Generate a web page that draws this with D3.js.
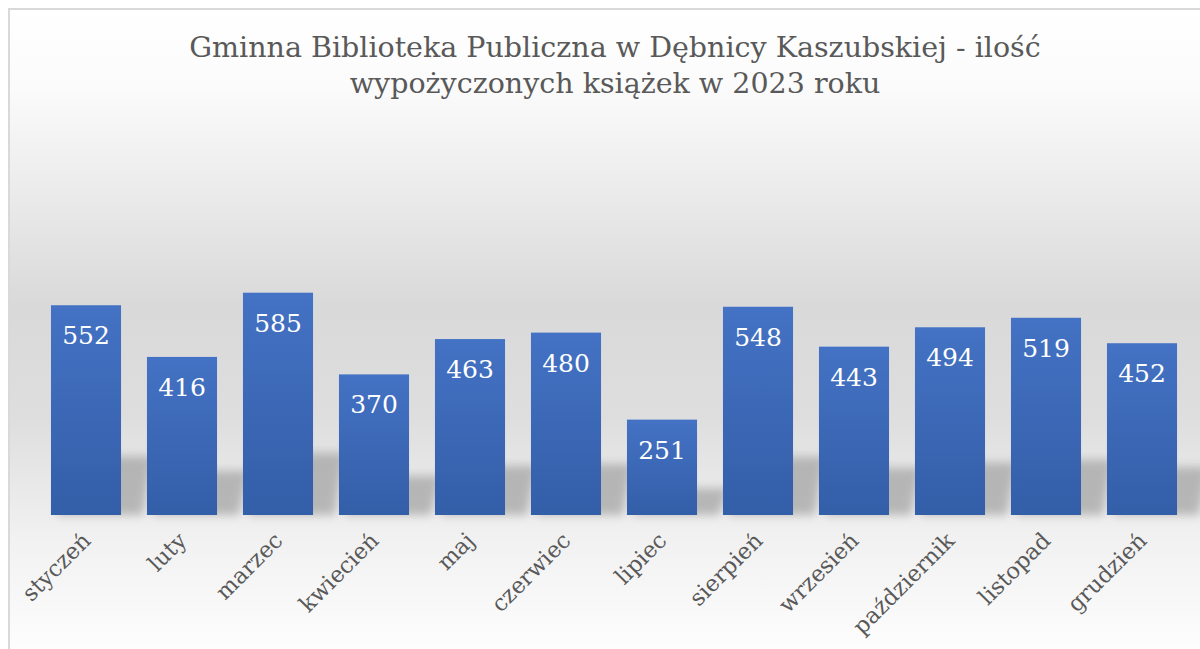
<!DOCTYPE html>
<html><head><meta charset="utf-8">
<script src="https://cdn.jsdelivr.net/npm/d3@7"></script>
<style>html,body{margin:0;padding:0;background:#fff;overflow:hidden}</style>
</head><body>
<svg id="c" width="1200" height="649"></svg>
<script>
const titleLines = ["Gminna Biblioteka Publiczna w Dębnicy Kaszubskiej - ilość", "wypożyczonych książek w 2023 roku"];
const months = ["styczeń","luty","marzec","kwiecień","maj","czerwiec","lipiec","sierpień","wrzesień","październik","listopad","grudzień"];
const values = [552,416,585,370,463,480,251,548,443,494,519,452];
const yDomain = [0,1000];

const svg = d3.select("#c");
const defs = svg.append("defs");
const bg = defs.append("linearGradient").attr("id","bg").attr("x1",0).attr("y1",0).attr("x2",0).attr("y2",1);
[[0,"#ffffff"],[0.12,"#fbfbfb"],[0.45,"#d9d9d9"],[0.62,"#dedede"],[0.8,"#f1f1f1"],[1,"#ffffff"]].forEach(([o,c])=>bg.append("stop").attr("offset",o).attr("stop-color",c));
const bar = defs.append("linearGradient").attr("id","bar").attr("x1",0).attr("y1",0).attr("x2",0).attr("y2",1);
bar.append("stop").attr("offset",0).attr("stop-color","#4472c4");
bar.append("stop").attr("offset",1).attr("stop-color","#335ea8");
const blur = defs.append("filter").attr("id","blur").attr("x","-50%").attr("y","-50%").attr("width","200%").attr("height","200%");
blur.append("feGaussianBlur").attr("stdDeviation",5);

const font = "'DejaVu Serif', serif";
svg.append("rect").attr("x",9).attr("y",9).attr("width",1200).attr("height",660)
  .attr("fill","url(#bg)").attr("stroke","#d9d9d9").attr("stroke-width",2);

const x = d3.scaleBand().domain(months).range([38,1190]).paddingInner(0.27).paddingOuter(0.135);
const y = d3.scaleLinear().domain(yDomain).range([515,135]);

// title
const t = svg.append("text").attr("text-anchor","middle").attr("fill","#595959")
  .style("font-family",font).style("font-size","28.5px");
titleLines.forEach((l,i)=>t.append("tspan").attr("x",615).attr("y",57+i*36).text(l));

// shadows
svg.append("g").selectAll("path").data(values).join("path")
  .attr("d",(d,i)=>{
    const x0 = x(months[i]), x1 = x0 + x.bandwidth();
    const b = y(0), h = (y(0)-y(d))*0.28;
    return `M${x0+6},${b} L${x1+22},${b} L${x1+32},${b-h} L${x0+14},${b-h} Z`;
  })
  .attr("fill","#a0a0a0").attr("opacity",0.7).attr("filter","url(#blur)");

// bars
svg.append("g").selectAll("rect").data(values).join("rect")
  .attr("x",(d,i)=>x(months[i])).attr("width",x.bandwidth())
  .attr("y",d=>y(d)).attr("height",d=>y(0)-y(d)).attr("fill","url(#bar)");

// value labels
svg.append("g").selectAll("text").data(values).join("text")
  .attr("x",(d,i)=>x(months[i])+x.bandwidth()/2).attr("y",d=>y(d)+39)
  .attr("text-anchor","middle").attr("fill","#ffffff")
  .style("font-family",font).style("font-size","25px").text(d=>d);

// x axis
const ax = svg.append("g").attr("transform",`translate(0,${y(0)})`)
  .call(d3.axisBottom(x).tickSize(0).tickPadding(0));
ax.select(".domain").remove();
ax.selectAll("text").attr("transform","translate(6,27) rotate(-45)").attr("dy",0)
  .attr("text-anchor","end").attr("fill","#595959")
  .style("font-family",font).style("font-size","22.5px");
</script>
</body></html>
